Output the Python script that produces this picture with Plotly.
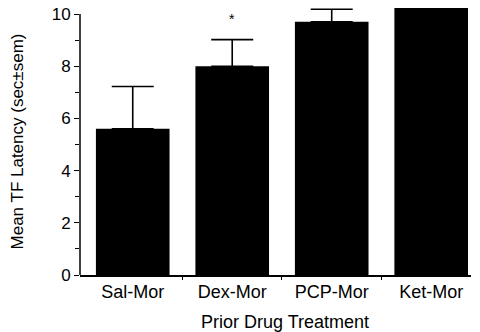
import plotly.graph_objects as go

categories = ["Sal-Mor", "Dex-Mor", "PCP-Mor", "Ket-Mor"]
means = [5.6, 8.0, 9.7, 10.25]
sem = [1.62, 1.02, 0.48, 0.0]
y_ticks = [0, 2, 4, 6, 8, 10]

FONT = "Liberation Sans, Arial, Helvetica, sans-serif"

fig = go.Figure()
fig.add_trace(go.Bar(
    x=list(range(len(categories))), y=means,
    marker=dict(color="black", line=dict(width=0)),
    width=0.74,
    error_y=dict(type="data", symmetric=False, array=sem, arrayminus=[0]*len(sem),
                 color="black", thickness=1.6, width=21),
))

fig.add_annotation(x=1, y=9.82, text="*", showarrow=False,
                   font=dict(size=14, color="black", family=FONT), xref="x", yref="y")
fig.add_annotation(x=0.524, y=-0.176, xref="paper", yref="paper", yanchor="middle",
                   text="Prior Drug Treatment",
                   showarrow=False, font=dict(size=18, color="black", family=FONT))
# y axis line only from 0 to 10
fig.add_shape(type="line", xref="paper", yref="y", x0=0, x1=0, y0=0, y1=10,
              line=dict(color="black", width=1.5))

fig.update_layout(
    width=472, height=324,
    margin=dict(l=72, r=9, t=0, b=57),
    paper_bgcolor="white", plot_bgcolor="white",
    showlegend=False,
    font=dict(family=FONT, color="black", size=17),
    xaxis=dict(
        range=[-0.53, 3.40], automargin=False,
        tickmode="array", tickvals=list(range(len(categories))), ticktext=categories,
        tickfont=dict(size=18),
        ticks="", showline=True, linecolor="black", linewidth=1.5,
        showgrid=False, zeroline=False,
        minor=dict(tickmode="array", tickvals=[0.5, 1.5, 2.5], ticks="outside",
                   ticklen=3, tickcolor="black", tickwidth=1.2),
    ),
    yaxis=dict(
        range=[0, 10.23], automargin=False,
        tickmode="array", tickvals=y_ticks,
        ticks="outside", ticklen=5, tickwidth=1.3, tickcolor="black",
        ticklabeloverflow="allow",
        showline=False, showgrid=False, zeroline=False,
        tickfont=dict(size=17),
        minor=dict(tickmode="array", tickvals=[1, 3, 5, 7, 9], ticks="outside",
                   ticklen=4, tickcolor="black", tickwidth=1.2),
        title=dict(text="Mean TF Latency (sec±sem)", font=dict(size=17), standoff=34),
    ),
)

fig.write_html("out.html")
